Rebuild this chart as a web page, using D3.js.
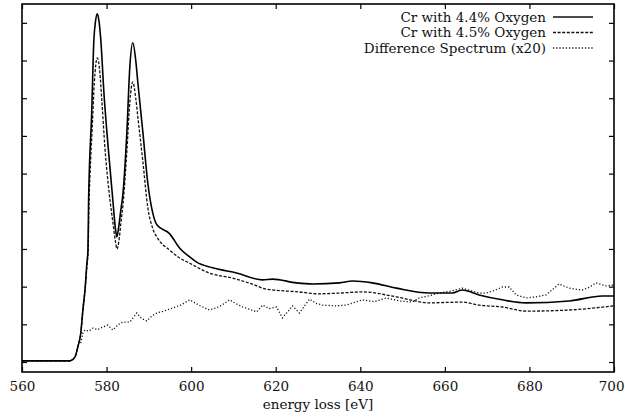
<!DOCTYPE html>
<html>
<head>
<meta charset="utf-8">
<script src="https://cdn.jsdelivr.net/npm/d3@7"></script>
<style>
  body { margin: 0; background: #fff; }
  svg { display: block; }
</style>
</head>
<body>
<div id="chart"></div>
<script>
// energy [eV] and intensity (arbitrary units)
const energyA = [560, 571.3, 572.5, 573.2, 573.9, 574.4, 574.9, 575.35, 575.6, 575.75, 575.95, 576.45, 577.0, 577.4, 577.8, 578.2, 578.6, 579.4, 580.3, 581.48, 582.07, 582.43, 582.9, 583.37, 583.84, 584.79, 585.5, 586.2, 586.9, 587.4, 588.6, 589.75, 590.93, 591.9, 594.94, 597.3, 599.5, 601.3, 605.1, 610.76, 616.9, 619.26, 624.9, 628.7, 635.08, 638.15, 642.87, 648.53, 656.32, 661.75, 664.1, 668.1, 673.55, 679.2, 689.4, 697.2, 700];
const oxy44 = [0.03, 0.03, 0.13, 0.40, 0.77, 1.38, 1.91, 2.63, 2.97, 4.30, 5.18, 6.50, 8.55, 9.05, 9.24, 9.05, 8.6, 7.1, 5.8, 4.3, 3.56, 3.32, 3.61, 4.03, 4.43, 6.08, 7.83, 8.47, 8.0, 7.41, 6.08, 4.75, 3.95, 3.64, 3.40, 3.02, 2.80, 2.65, 2.50, 2.36, 2.18, 2.20, 2.10, 2.07, 2.10, 2.15, 2.10, 1.96, 1.83, 1.83, 1.91, 1.78, 1.65, 1.57, 1.62, 1.75, 1.75];

const energyB = [560, 571.3, 572.5, 573.2, 573.9, 574.4, 574.9, 575.4, 575.65, 575.8, 576.1, 576.6, 577.1, 577.8, 578.4, 578.9, 579.6, 580.6, 581.5, 582.1, 582.45, 582.9, 583.4, 583.9, 584.8, 585.5, 586.2, 586.9, 587.4, 588.6, 589.75, 590.9, 592.1, 594.9, 597.3, 599.5, 604.3, 609.7, 615.1, 617.5, 625.5, 630.2, 635.1, 640.6, 648.5, 656.3, 664.1, 668.1, 673.6, 679.2, 689.4, 700];
const oxy45 = [0.03, 0.03, 0.13, 0.40, 0.77, 1.38, 1.91, 2.6, 2.95, 4.0, 5.0, 6.2, 7.4, 8.07, 7.7, 6.9, 5.7, 4.5, 3.7, 3.2, 3.0, 3.2, 3.7, 4.2, 5.6, 6.9, 7.43, 7.0, 6.5, 5.3, 4.1, 3.55, 3.28, 2.97, 2.76, 2.63, 2.36, 2.23, 2.04, 1.94, 1.86, 1.81, 1.83, 1.86, 1.73, 1.57, 1.59, 1.51, 1.46, 1.35, 1.38, 1.49];

const energyD = [573.9, 574.4, 574.87, 575.8, 576.76, 577.9, 579.12, 580.3, 581.48, 582.7, 583.84, 585.5, 587.15, 588.3, 589.5, 590.7, 591.87, 593.8, 595.65, 597.7, 599.66, 602.0, 604.38, 606.7, 609.1, 610.6, 612.17, 613.8, 615.48, 616.9, 618.5, 620.2, 621.6, 623.98, 625.6, 628, 629.5, 631.06, 634.37, 636.73, 638.6, 640.5, 643.3, 646.17, 649.2, 652.3, 653.96, 656.3, 658.68, 661.4, 664.11, 668.13, 669.78, 671.7, 673.56, 675.21, 676.86, 679.22, 681.58, 683.95, 687.0, 689.4, 692.45, 694.1, 695.75, 698.1, 699.76];
const diff20 = [0.5, 0.77, 0.85, 0.82, 0.90, 0.86, 0.93, 0.98, 0.85, 0.99, 1.06, 1.06, 1.30, 1.15, 1.09, 1.22, 1.30, 1.36, 1.43, 1.52, 1.65, 1.50, 1.38, 1.47, 1.65, 1.55, 1.46, 1.40, 1.33, 1.51, 1.42, 1.46, 1.17, 1.49, 1.30, 1.67, 1.56, 1.51, 1.49, 1.51, 1.58, 1.65, 1.60, 1.70, 1.62, 1.59, 1.70, 1.76, 1.83, 1.88, 1.96, 1.83, 1.83, 1.90, 1.99, 1.99, 1.78, 1.70, 1.73, 1.78, 2.07, 1.96, 1.91, 1.98, 2.10, 2.02, 2.04];

const xTicks = [560, 580, 600, 620, 640, 660, 680, 700];
const yTicks = [0, 1, 2, 3, 4, 5, 6, 7, 8, 9];

const seriesNames = ["Cr with 4.4% Oxygen", "Cr with 4.5% Oxygen", "Difference Spectrum (x20)"];

const width = 625, height = 419;
const margin = { top: 4, right: 11, bottom: 47, left: 22 };
const plotW = width - margin.left - margin.right;
const plotH = height - margin.top - margin.bottom;
const font = "'DejaVu Serif', serif";

const svg = d3.select("#chart").append("svg")
    .attr("width", width)
    .attr("height", height);

const g = svg.append("g")
    .attr("transform", "translate(" + margin.left + "," + margin.top + ")");

const x = d3.scaleLinear().domain([560, 700]).range([0, plotW]);
const y = d3.scaleLinear().domain([-0.265, 9.5]).range([plotH, 0]);

// axes, ticks pointing inward (gnuplot style)
const xb = g.append("g")
    .attr("transform", "translate(0," + plotH + ")")
    .call(d3.axisBottom(x).tickValues(xTicks).tickSize(-5).tickPadding(9).tickFormat(d3.format("d")));
g.append("g")
    .call(d3.axisTop(x).tickValues(xTicks).tickSize(-5).tickFormat(""));
g.append("g")
    .call(d3.axisLeft(y).tickValues(yTicks).tickSize(-5).tickFormat(""));
g.append("g")
    .attr("transform", "translate(" + plotW + ",0)")
    .call(d3.axisRight(y).tickValues(yTicks).tickSize(-5).tickFormat(""));

g.selectAll(".domain").remove();
g.selectAll(".tick line").attr("stroke", "#000").attr("stroke-width", 1.2);
xb.selectAll("text")
    .attr("font-family", font)
    .attr("font-size", 13.5)
    .attr("fill", "#111");
// last label sits against the page edge
xb.selectAll(".tick text")
    .filter(d => d === 700)
    .attr("text-anchor", "end")
    .attr("x", 10);

g.append("rect")
    .attr("width", plotW)
    .attr("height", plotH)
    .attr("fill", "none")
    .attr("stroke", "#000")
    .attr("stroke-width", 1.6);

svg.append("text")
    .attr("x", margin.left + plotW / 2)
    .attr("y", 409)
    .attr("text-anchor", "middle")
    .attr("font-family", font)
    .attr("font-size", 13.5)
    .attr("fill", "#111")
    .text("energy loss [eV]");

// curves
const smooth = d3.line()
    .x(d => x(d[0]))
    .y(d => y(d[1]))
    .curve(d3.curveMonotoneX);
const rough = d3.line()
    .x(d => x(d[0]))
    .y(d => y(d[1]));

const styles = [
    { dash: null, w: 1.6 },
    { dash: "3,1.6", w: 1.3 },
    { dash: "1.2,2", w: 1.3 }
];

g.append("path")
    .datum(d3.zip(energyD, diff20))
    .attr("fill", "none")
    .attr("stroke", "#111")
    .attr("stroke-width", styles[2].w)
    .attr("stroke-dasharray", styles[2].dash)
    .attr("d", rough);

g.append("path")
    .datum(d3.zip(energyB, oxy45))
    .attr("fill", "none")
    .attr("stroke", "#111")
    .attr("stroke-width", styles[1].w)
    .attr("stroke-dasharray", styles[1].dash)
    .attr("d", smooth);

g.append("path")
    .datum(d3.zip(energyA, oxy44))
    .attr("fill", "none")
    .attr("stroke", "#000")
    .attr("stroke-width", styles[0].w)
    .attr("d", smooth);

// legend
const legend = svg.append("g");
seriesNames.forEach((name, i) => {
    const ly = 17 + i * 15.5;
    legend.append("text")
        .attr("x", 546)
        .attr("y", ly)
        .attr("dy", "0.35em")
        .attr("text-anchor", "end")
        .attr("font-family", font)
        .attr("font-size", 13.5)
        .attr("fill", "#111")
        .text(name);
    legend.append("line")
        .attr("x1", 553)
        .attr("x2", 593)
        .attr("y1", ly)
        .attr("y2", ly)
        .attr("stroke", "#111")
        .attr("stroke-width", styles[i].w)
        .attr("stroke-dasharray", styles[i].dash);
});
</script>
</body>
</html>
